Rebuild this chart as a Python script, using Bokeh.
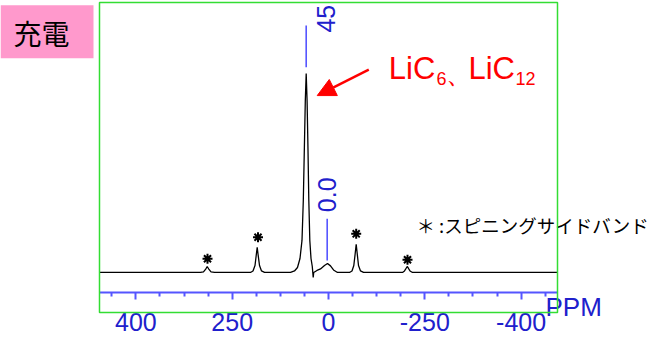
import math
from bokeh.plotting import figure
from bokeh.models import (Range1d, LinearAxis, FixedTicker, Label, Arrow, NormalHead,
                          ColumnDataSource, BoxAnnotation)
from bokeh.core.properties import value
from bokeh.embed import file_html
from bokeh.resources import INLINE

# ---- data ----
ppm = [594.5, 332.3, 324.5, 319.3, 314.9, 310.2, 305.0, 295.9,
       215.5, 202.5, 196.0, 190.8, 187.4, 185.1, 182.8, 179.1, 173.9, 166.1,
       98.6, 88.3, 80.5, 74.0, 68.8, 65.4, 62.8, 60.2, 57.9, 55.6, 53.2, 51.1,
       48.5, 45.4, 42.1, 39.7, 38.4, 29.9, 20.8, 10.4, 2.6, -5.2, -13.0, -23.4,
       -54.5, -61.0, -65.7, -69.3, -71.9, -74.5, -77.9, -83.1, -90.9,
       -192.1, -197.3, -201.2, -204.3, -207.7, -211.6, -218.1, -594.5]
intensity = [0, 0, 0.25, 1.5, 3.0, 1.5, 0.25, 0,
             0, 0, 0.75, 3.5, 9.0, 12.6, 9.0, 3.5, 0.75, 0,
             0, 0.75, 2.5, 7.0, 16.1, 36.2, 61.3, 86.4, 100.0, 86.4, 61.3, 36.2,
             16.1, 7.0, 3.0, -2.5, 0, 1.0, 1.76, 3.5, 4.5, 3.3, 1.26, 0,
             0, 0.75, 3.5, 9.5, 14.1, 9.5, 3.5, 0.75, 0,
             0, 0.75, 2.0, 3.0, 2.0, 0.75, 0, 0]

star_ppm = [314.1, 183.0, -71.9, -205.1]
star_y = [6.9, 17.7, 19.4, 6.4]

tick_values = [500, 250, 0, -250, -500]
tick_labels = ["400", "250", "0", "-250", "-400"]
minor_values = [562.5, 437.5, 375, 312.5, 187.5, 125, 62.5, -62.5, -125, -187.5,
                -312.5, -375, -437.5, -562.5]

marker_ppm = [57.9, 3.4]
marker_top = [124.1, 27.0]
marker_bottom = [103.2, 6.0]
marker_text = ["45", "0.0"]
marker_text_x = [5.7, 2.6]
marker_text_y = [120.6, 30.3]

red_text = ["LiC", "6", "、", "LiC", "12"]
red_x = [-156.5, -280.4, -306.3, -363.4, -485.5]
red_y = [102.5, 97.5, 100.0, 102.5, 97.5]
red_size = ["31px", "18px", "26px", "31px", "18px"]

# plot window (spectrum frame) in data units
X_LEFT, X_RIGHT = 594.5, -594.5
Y_BOTTOM, Y_TOP = -20.1, 135.7
AXIS_Y = -10.05

BLUE_TEXT = "#2020cc"
BLUE_LINE = "#5555ff"
GREEN = "#33dd33"

p = figure(width=658, height=337, output_backend="svg", toolbar_location=None,
           x_axis_type=None, y_axis_type=None,
           x_range=Range1d(851.5, -856.7), y_range=Range1d(-32.7, 136.7),
           min_border=0)
p.outline_line_color = None
p.background_fill_color = "white"
p.border_fill_color = "white"

# spectrum
p.line(ppm, intensity, line_color="black", line_width=1.3)

# spinning side band stars
p.scatter(star_ppm, star_y, marker="asterisk", size=10, line_color="black", line_width=2)

# marker lines and labels
p.segment(x0=marker_ppm, y0=marker_bottom, x1=marker_ppm, y1=marker_top,
          line_color=BLUE_LINE, line_width=1.6)
p.text(x=marker_text_x, y=marker_text_y, text=marker_text, angle=math.pi / 2,
       text_align="left", text_baseline="middle", text_color=BLUE_TEXT,
       text_font=value("Liberation Sans"), text_font_size="25px")

# red annotation
red_src = ColumnDataSource(dict(x=red_x, y=red_y, text=red_text, size=red_size))
p.text(x="x", y="y", text="text", source=red_src, text_color="#ff0000",
       text_font=value("Liberation Sans"), text_font_size="size",
       text_align="left", text_baseline="middle")
p.add_layout(Arrow(end=NormalHead(size=18, fill_color="#ff0000", line_color="#ff0000"),
                   x_start=-104.6, y_start=101.9, x_end=29.3, y_end=88.9,
                   line_color="#ff0000", line_width=2.5))

# x axis inside the spectrum window
ax = LinearAxis(fixed_location=AXIS_Y, bounds=(X_RIGHT, X_LEFT),
                ticker=FixedTicker(ticks=tick_values, minor_ticks=minor_values),
                major_label_overrides=dict(zip(tick_values, tick_labels)))
ax.axis_line_color = BLUE_LINE
ax.axis_line_width = 2
ax.major_tick_line_color = BLUE_LINE
ax.major_tick_line_width = 2
ax.major_tick_in = 0
ax.major_tick_out = 7
ax.minor_tick_line_color = BLUE_LINE
ax.minor_tick_line_width = 2
ax.minor_tick_in = 0
ax.minor_tick_out = 4
ax.major_label_standoff = 14
ax.major_label_text_font = "Liberation Sans"
ax.major_label_text_font_size = "25px"
ax.major_label_text_color = BLUE_TEXT
p.add_layout(ax, "below")

p.add_layout(Label(x=-563.3, y=-17.4, text="PPM", text_font="Liberation Sans",
                   text_font_size="26px", text_color=BLUE_TEXT,
                   text_baseline="middle", text_align="left"))

p.add_layout(Label(x=-228.4, y=23.6, text="＊ :スピニングサイドバンド",
                   text_font="Noto Sans CJK JP", text_font_size="18.5px",
                   text_color="black", text_baseline="middle", text_align="left"))

p.add_layout(Label(x=851.5, y=121.0, text="充電", text_font="Noto Sans CJK JP",
                   text_font_size="28px", text_color="black",
                   text_baseline="middle", text_align="left",
                   background_fill_color="#ff99cc",
                   padding=dict(left=13, right=24, top=8, bottom=5)))

# green spectrum window
p.add_layout(BoxAnnotation(left=X_RIGHT, right=X_LEFT, bottom=Y_BOTTOM, top=Y_TOP,
                           fill_color=None, line_color=GREEN, line_alpha=1.0,
                           line_width=1.5))

open("out.html", "w").write(file_html(p, INLINE))
